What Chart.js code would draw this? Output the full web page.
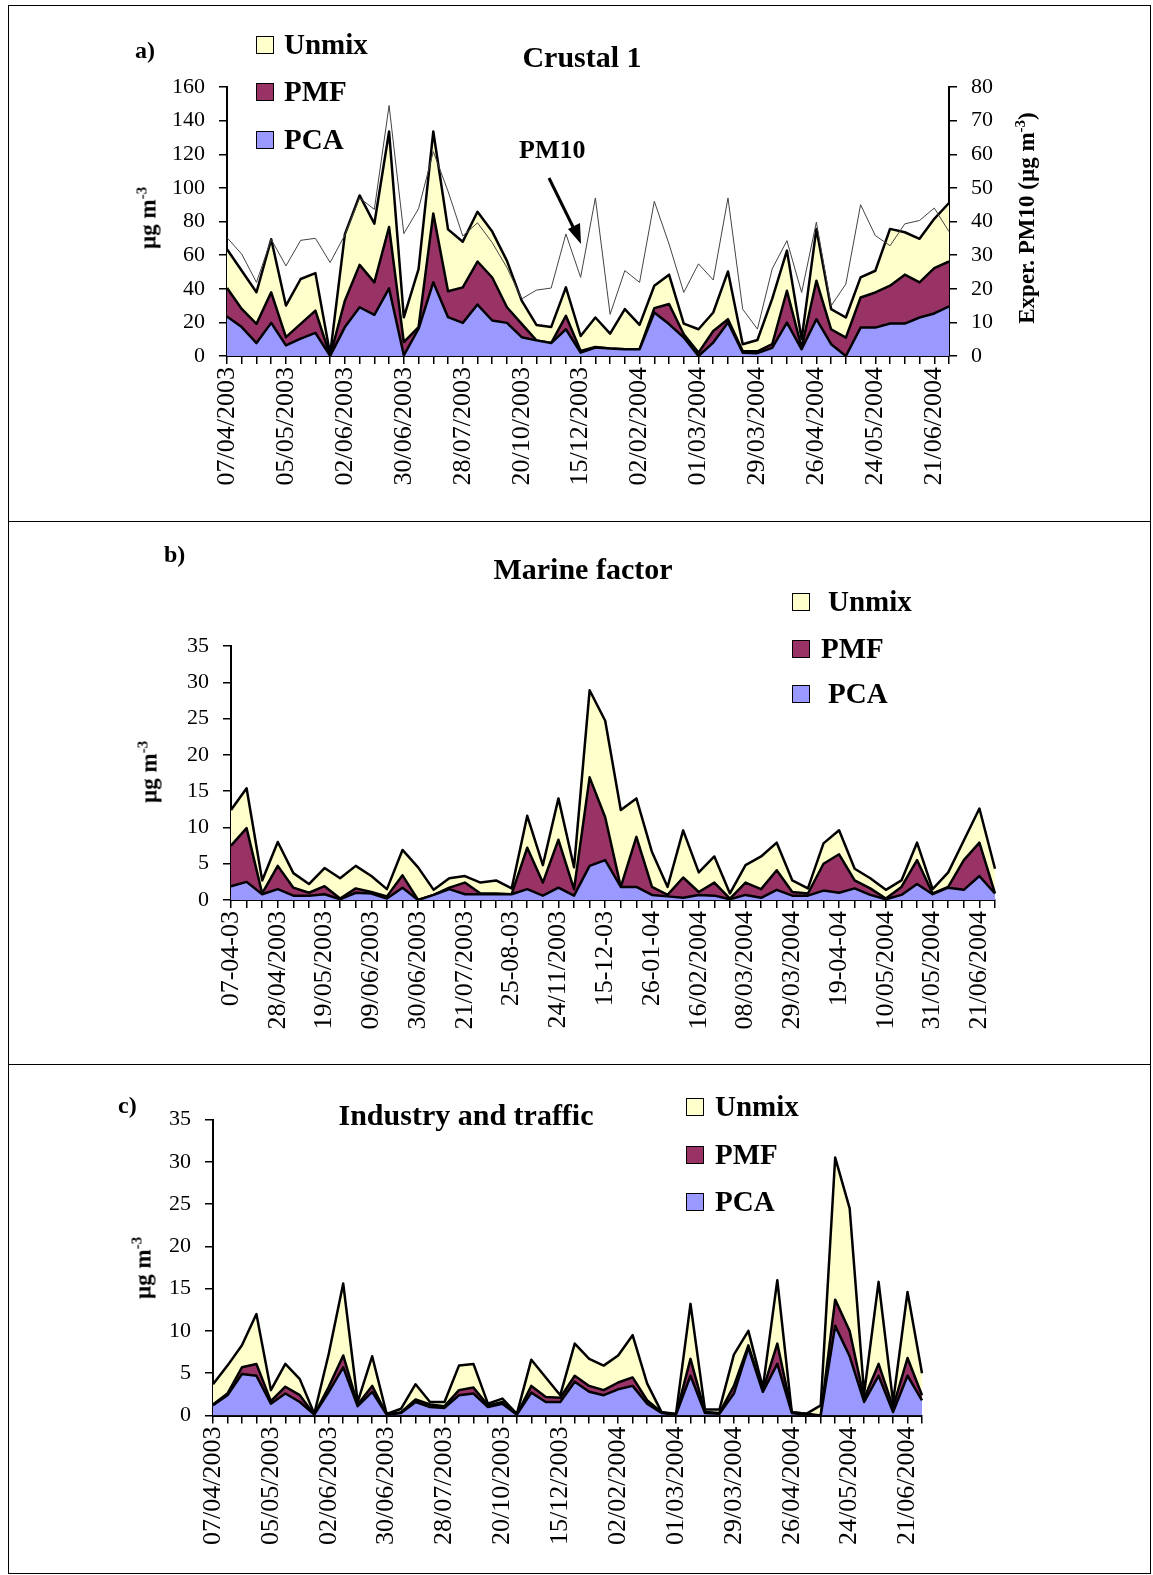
<!DOCTYPE html>
<html lang="en">
<head>
<meta charset="UTF-8">
<title>Crustal, marine and industry factors</title>
<script src="https://cdn.jsdelivr.net/npm/chart.js@4.4.1/dist/chart.umd.min.js"></script>
<style>
  body { margin: 0; background: #fff; font-family: 'Liberation Serif', 'Times New Roman', serif; color: #000; }
  #page { position: relative; width: 1153px; height: 1575px; overflow: hidden; }
  .frame { position: absolute; left: 8px; top: 5px; width: 1143px; height: 1569px; border: 1.5px solid #000; box-sizing: border-box; }
  .rule { position: absolute; left: 8px; width: 1143px; height: 0; border-top: 1.5px solid #000; }
  canvas { position: absolute; left: 0; }
  .txt { position: absolute; font-weight: bold; white-space: nowrap; line-height: 1; }
  .key { position: absolute; width: 18px; height: 18px; border: 1.5px solid #000; box-sizing: border-box; }
  .vert { position: absolute; transform: translate(-50%, -50%) rotate(-90deg); font-weight: bold; white-space: nowrap; line-height: 1; font-size: 23px; }
  sup { font-size: 15px; vertical-align: 9px; }
</style>
</head>
<body>
<div id="page">
  <div class="frame"></div>
  <div class="rule" style="top:521px"></div>
  <div class="rule" style="top:1064px"></div>

  <canvas id="chartA" width="1153" height="522" style="top:0"></canvas>
  <canvas id="chartB" width="1153" height="543" style="top:522px"></canvas>
  <canvas id="chartC" width="1153" height="510" style="top:1065px"></canvas>

  <!-- panel a -->
  <div class="txt" style="left:135px;top:38px;font-size:24px">a)</div>
  <div class="txt" style="left:582px;top:42px;font-size:30px;transform:translateX(-50%)">Crustal 1</div>
  <div class="key" style="left:256px;top:36px;background:#FFFFCC"></div>
  <div class="txt" style="left:284px;top:30px;font-size:29px">Unmix</div>
  <div class="key" style="left:256px;top:83px;background:#993366"></div>
  <div class="txt" style="left:284px;top:77px;font-size:29px">PMF</div>
  <div class="key" style="left:256px;top:131px;background:#9999FF"></div>
  <div class="txt" style="left:284px;top:125px;font-size:29px">PCA</div>
  <div class="txt" style="left:519px;top:137px;font-size:26px">PM10</div>
  <div class="vert" style="left:147px;top:218px">µg m<sup>-3</sup></div>
  <div class="vert" style="left:1025px;top:218px">Exper. PM10 (µg m<sup>-3</sup>)</div>
  <svg style="position:absolute;left:0;top:0" width="1153" height="522">
    <line x1="549" y1="178" x2="575" y2="231" stroke="#000" stroke-width="3"/>
    <polygon points="581,244 568,229 580,223" fill="#000"/>
  </svg>

  <!-- panel b -->
  <div class="txt" style="left:164px;top:542px;font-size:24px">b)</div>
  <div class="txt" style="left:583px;top:554px;font-size:30px;transform:translateX(-50%)">Marine factor</div>
  <div class="key" style="left:792px;top:593px;background:#FFFFCC"></div>
  <div class="txt" style="left:828px;top:587px;font-size:29px">Unmix</div>
  <div class="key" style="left:792px;top:640px;background:#993366"></div>
  <div class="txt" style="left:821px;top:634px;font-size:29px">PMF</div>
  <div class="key" style="left:792px;top:685px;background:#9999FF"></div>
  <div class="txt" style="left:828px;top:679px;font-size:29px">PCA</div>
  <div class="vert" style="left:148px;top:772px">µg m<sup>-3</sup></div>

  <!-- panel c -->
  <div class="txt" style="left:118px;top:1093px;font-size:24px">c)</div>
  <div class="txt" style="left:466px;top:1100px;font-size:30px;transform:translateX(-50%)">Industry and traffic</div>
  <div class="key" style="left:686px;top:1098px;background:#FFFFCC"></div>
  <div class="txt" style="left:715px;top:1092px;font-size:29px">Unmix</div>
  <div class="key" style="left:686px;top:1146px;background:#993366"></div>
  <div class="txt" style="left:715px;top:1140px;font-size:29px">PMF</div>
  <div class="key" style="left:686px;top:1193px;background:#9999FF"></div>
  <div class="txt" style="left:715px;top:1187px;font-size:29px">PCA</div>
  <div class="vert" style="left:142px;top:1268px">µg m<sup>-3</sup></div>
</div>

<script>
// tick labels shown under the x axes (one every few samples)
const ticksA = ['07/04/2003', '05/05/2003', '02/06/2003', '30/06/2003', '28/07/2003', '20/10/2003', '15/12/2003',
  '02/02/2004', '01/03/2004', '29/03/2004', '26/04/2004', '24/05/2004', '21/06/2004'];
const ticksB = ['07-04-03', '28/04/2003', '19/05/2003', '09/06/2003', '30/06/2003', '21/07/2003', '25-08-03', '24/11/2003',
  '15-12-03', '26-01-04', '16/02/2004', '08/03/2004', '29/03/2004', '19-04-04', '10/05/2004', '31/05/2004', '21/06/2004'];
const ticksC = ticksA;

// a) Crustal 1 (µg m-3), stacked contributions
const pcaA = [23.5, 17.2, 7.7, 19.7, 6.3, 10.3, 13.8, 0, 17.2, 29, 24.5, 40.2, 0.4, 16.2, 43.8, 23.1, 19.7, 30.6, 21.1, 19.7,
  11.2, 9.3, 7.7, 15.9, 2.0, 5.0, 4.4, 4.0, 4.0, 25.9, 19.0, 11.0, 0, 8.0, 19.9, 2.0, 1.7, 4.8, 19.9, 4.0,
  21.9, 7.0, 0, 16.9, 16.9, 19.3, 19.3, 22.9, 25.3, 29.5];
const pmfA = [16.9, 10.8, 11.4, 18.2, 4.9, 8.8, 13.2, 0, 15.7, 25.2, 19.3, 36.5, 7.9, 1.0, 41.0, 15.4, 21.1, 25.6, 25.6, 9.3,
  7.9, 0, 0, 8.0, 1.0, 0.4, 0, 0, 0, 2.6, 11.9, 1.9, 2.0, 6.9, 2.0, 1.0, 1.1, 2.2, 18.9, 1.0,
  22.9, 8.9, 10.9, 17.9, 20.9, 22.5, 29.1, 20.9, 27.0, 26.7];
const unmixA = [23.1, 22.7, 18.8, 31.5, 18.8, 26.7, 22.3, 1.0, 39.5, 41.3, 34.9, 56.8, 14.7, 34.5, 48.7, 36.8, 27.2, 29.6, 27.3, 27.6,
  13.8, 9.2, 9.5, 16.9, 8.9, 17.5, 8.9, 23.9, 14.5, 13.3, 17.5, 6.4, 13.9, 11.0, 28.4, 4.0, 6.7, 27.0, 23.9, 5.0,
  30.8, 12.0, 12.0, 12.0, 12.9, 33.8, 25.2, 25.9, 29.3, 34.8];
// experimental PM10, right axis
const pm10A = [35.2, 30.3, 21.9, 34.7, 26.8, 34.4, 35, 27.8, 36, 47, 43.6, 74.5, 36.4, 43.8, 60.8, 49, 35.7, 39.6, 33.7, 26.3,
  17, 19.6, 20.2, 36.3, 23.4, 47, 12.4, 25.4, 21.9, 46, 33.3, 18.9, 27.4, 22.6, 47, 13.9, 8.0, 25.9, 34.3, 18.9,
  39.8, 14.9, 21.4, 45, 35.8, 32.8, 39.3, 40.3, 44, 37];

// b) Marine factor
const pcaB = [1.9, 2.5, 0.8, 1.5, 0.6, 0.6, 0.8, 0.1, 1.0, 0.9, 0.2, 1.7, 0, 0.7, 1.5, 0.8, 0.8, 0.8, 0.8, 1.5,
  0.6, 1.7, 0.6, 4.7, 5.5, 1.8, 1.8, 0.7, 0.5, 0.3, 0.7, 0.6, 0.1, 0.7, 0.3, 1.4, 0.6, 0.6, 1.3, 1.0,
  1.6, 0.7, 0.1, 0.7, 2.2, 0.8, 1.7, 1.4, 3.3, 0.9];
const pmfB = [5.6, 7.4, 0.1, 3.2, 1.1, 0.4, 1.1, 0.1, 0.6, 0.2, 0.3, 1.7, 0, 0, 0.2, 1.6, 0.1, 0.1, 0, 5.7,
  1.8, 6.6, 0.9, 12.2, 5.9, 0, 6.9, 1.1, 0.2, 2.8, 0.4, 1.8, 0.1, 1.7, 1.2, 2.7, 0.5, 0.3, 3.7, 5.3,
  1.1, 0.9, 0.1, 1.1, 3.3, 0.1, 0.1, 4.1, 4.6, 0];
const unmixB = [4.9, 5.5, 1.8, 3.3, 2.0, 1.2, 2.5, 2.8, 3.1, 2.2, 1.0, 3.5, 4.5, 0.7, 1.3, 0.9, 1.5, 1.8, 0.8, 4.4,
  2.4, 5.7, 3.0, 12.0, 13.3, 10.6, 5.3, 4.8, 1.1, 6.5, 2.7, 3.6, 0.7, 2.4, 4.5, 3.8, 1.6, 0.7, 2.8, 3.3,
  1.6, 1.4, 1.2, 0.9, 2.4, 0.6, 2.0, 2.7, 4.7, 3.4];

// c) Industry and traffic
const pcaC = [1.2, 2.4, 4.9, 4.7, 1.4, 2.6, 1.6, 0.1, 2.8, 5.7, 1.1, 2.8, 0.1, 0.3, 1.6, 1.0, 0.9, 2.4, 2.6, 1.0,
  1.4, 0.1, 2.7, 1.6, 1.6, 4.0, 2.8, 2.4, 3.1, 3.5, 1.4, 0.3, 0.1, 4.7, 0.3, 0.2, 2.6, 8.0, 2.8, 6.1,
  0.3, 0.1, 0, 10.6, 7.0, 1.6, 4.7, 0.4, 4.7, 1.8];
const pmfC = [0.1, 0.2, 0.8, 1.4, 0.3, 0.8, 0.8, 0, 0.6, 1.4, 0.2, 0.7, 0, 0.1, 0.3, 0.3, 0.2, 0.6, 0.7, 0.2,
  0.2, 0, 0.8, 0.6, 0.5, 0.7, 0.7, 0.6, 0.8, 1.0, 0.4, 0.1, 0, 2.0, 0.1, 0.1, 0.9, 0.3, 0.2, 2.4,
  0.1, 0.1, 0, 3.1, 3.0, 0.4, 1.4, 0.6, 2.1, 0.6];
const unmixC = [2.4, 3.3, 2.6, 5.9, 1.3, 2.7, 1.9, 0.1, 3.9, 8.5, 0.3, 3.5, 0.1, 0.4, 1.8, 0.3, 0.5, 2.9, 2.8, 0.2,
  0.4, 0.1, 3.1, 2.3, 0.3, 3.8, 3.2, 2.9, 3.2, 5.0, 2.0, 0, 0.1, 6.5, 0.3, 0.4, 3.7, 1.7, 0.3, 7.5,
  0, 0, 1.2, 16.8, 14.5, 0.6, 9.7, 0.6, 7.8, 2.6];

Chart.defaults.font.family = "'Liberation Serif', 'Times New Roman', serif";
Chart.defaults.color = '#000';

// one category per sample, a label only every `step` samples
function spread(ticks, step, n) {
  return Array.from({ length: n }, (_, i) => (i % step === 0 && ticks[i / step]) ? ticks[i / step] : '');
}

function areaSets(pca, pmf, unmix) {
  return [
    { label: 'PCA', data: pca, backgroundColor: '#9999FF', fill: 'origin' },
    { label: 'PMF', data: pmf, backgroundColor: '#993366', fill: '-1' },
    { label: 'Unmix', data: unmix, backgroundColor: '#FFFFCC', fill: '-1' }
  ].map(d => Object.assign(d, { borderColor: '#000', borderWidth: 2.5, pointRadius: 0, tension: 0, yAxisID: 'y' }));
}

const fixW = w => s => { s.width = w; s.paddingTop = 0; s.paddingBottom = 0; };
const fixH = h => s => { s.height = h; s.paddingLeft = 0; s.paddingRight = 0; };

function axisY(max, step, pos, pad) {
  return {
    position: pos, stacked: pos === 'left', min: 0, max: max,
    ticks: { stepSize: step, padding: pad, font: { size: 22 } },
    grid: { drawOnChartArea: false, drawTicks: true, tickLength: 8, color: '#000', lineWidth: 1.5 },
    border: { display: true, color: '#000', width: 2 },
    afterFit: fixW(60)
  };
}

function makeChart(id, labels, sets, yMax, pad, right) {
  const scales = {
    x: {
      ticks: { autoSkip: false, maxRotation: 90, minRotation: 90, padding: 3, font: { size: 26 } },
      grid: { drawOnChartArea: false, drawTicks: true, tickLength: 8, color: '#000', lineWidth: 1.5 },
      border: { display: true, color: '#000', width: 2 },
      afterFit: fixH(150)
    },
    y: axisY(yMax, yMax === 160 ? 20 : 5, 'left', 14)
  };
  if (right) scales.y2 = axisY(80, 10, 'right', 14);
  return new Chart(document.getElementById(id), {
    type: 'line',
    data: { labels: labels, datasets: sets },
    options: {
      responsive: false, animation: false, devicePixelRatio: 1,
      layout: { padding: pad },
      elements: { line: { borderJoinStyle: 'round' } },
      plugins: { legend: { display: false }, tooltip: { enabled: false } },
      scales: scales
    }
  });
}

const setsA = [{ label: 'PM10', data: pm10A, yAxisID: 'y2', borderColor: '#444', borderWidth: 1, pointRadius: 0, fill: false, tension: 0 }]
  .concat(areaSets(pcaA, pmfA, unmixA));

makeChart('chartA', spread(ticksA, 4, pcaA.length), setsA, 160, { left: 167, right: 144, top: 87, bottom: 16 }, true);
makeChart('chartB', spread(ticksB, 3, pcaB.length), areaSets(pcaB, pmfB, unmixB), 35, { left: 171, right: 158, top: 124, bottom: 15 }, false);
makeChart('chartC', spread(ticksC, 4, pcaC.length), areaSets(pcaC, pmfC, unmixC), 35, { left: 153, right: 231, top: 54.5, bottom: 9.5 }, false);
</script>
</body>
</html>
